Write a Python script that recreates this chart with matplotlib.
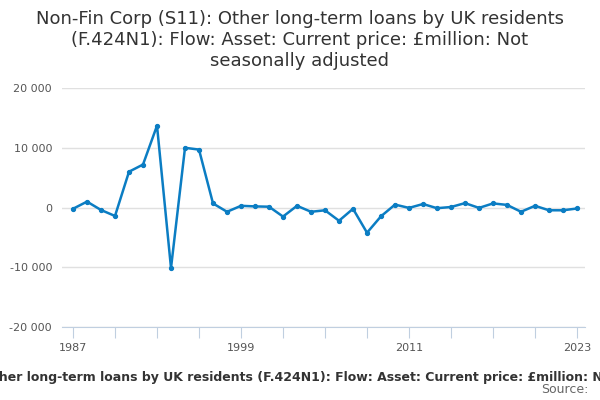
import matplotlib.pyplot as plt
from matplotlib.ticker import FuncFormatter, MultipleLocator

years = list(range(1987, 2024))
values = [-200, 1000, -400, -1400, 6000, 7200, 13700, -10100, 10000, 9700,
          700, -700, 300, 200, 150, -1500, 300, -700, -450, -2200,
          -200, -4200, -1450, 500, -50, 600, -100, 100, 750, -50,
          700, 450, -700, 300, -450, -450, -150]

title = ("Non-Fin Corp (S11): Other long-term loans by UK residents "
         "(F.424N1): Flow: Asset: Current price: £million: Not seasonally adjusted")

fig = plt.figure(figsize=(6, 4), dpi=100)
ax = fig.add_axes([0.103, 0.182, 0.872, 0.598])

ax.plot(years, values, color='#0b7dc3', linewidth=1.8, marker='o', markersize=2.8)

ax.set_ylim(-20000, 20000)
ax.set_xlim(1986.2, 2023.57)
ax.yaxis.set_major_locator(MultipleLocator(10000))
ax.yaxis.set_major_formatter(FuncFormatter(lambda v, p: f"{int(v):,}".replace(",", " ")))
ax.set_xticks(range(1987, 2024, 3))
ax.set_xticklabels([str(y) if (y - 1987) % 12 == 0 else '' for y in range(1987, 2024, 3)])

ax.grid(axis='y', color='#e0e0e0', linewidth=1)
ax.set_axisbelow(True)
for s in ['top', 'right', 'left']:
    ax.spines[s].set_visible(False)
ax.spines['bottom'].set_color('#c0cfe0')
ax.tick_params(axis='y', length=0, labelsize=8, labelcolor='#555555', pad=7)
ax.tick_params(axis='x', length=8, color='#c0cfe0', labelsize=8, labelcolor='#555555')

fig.text(0.5, 0.975, "Non-Fin Corp (S11): Other long-term loans by UK residents\n"
         "(F.424N1): Flow: Asset: Current price: £million: Not\nseasonally adjusted",
         ha='center', va='top', fontsize=13, color='#333333', linespacing=1.2)
fig.text(0.5, 0.055, title, ha='center', va='center', fontsize=9,
         fontweight='bold', color='#333333')
fig.text(0.98, 0.01, "Source:", ha='right', va='bottom', fontsize=9, color='#666666')

plt.savefig('out.png')
plt.close()
